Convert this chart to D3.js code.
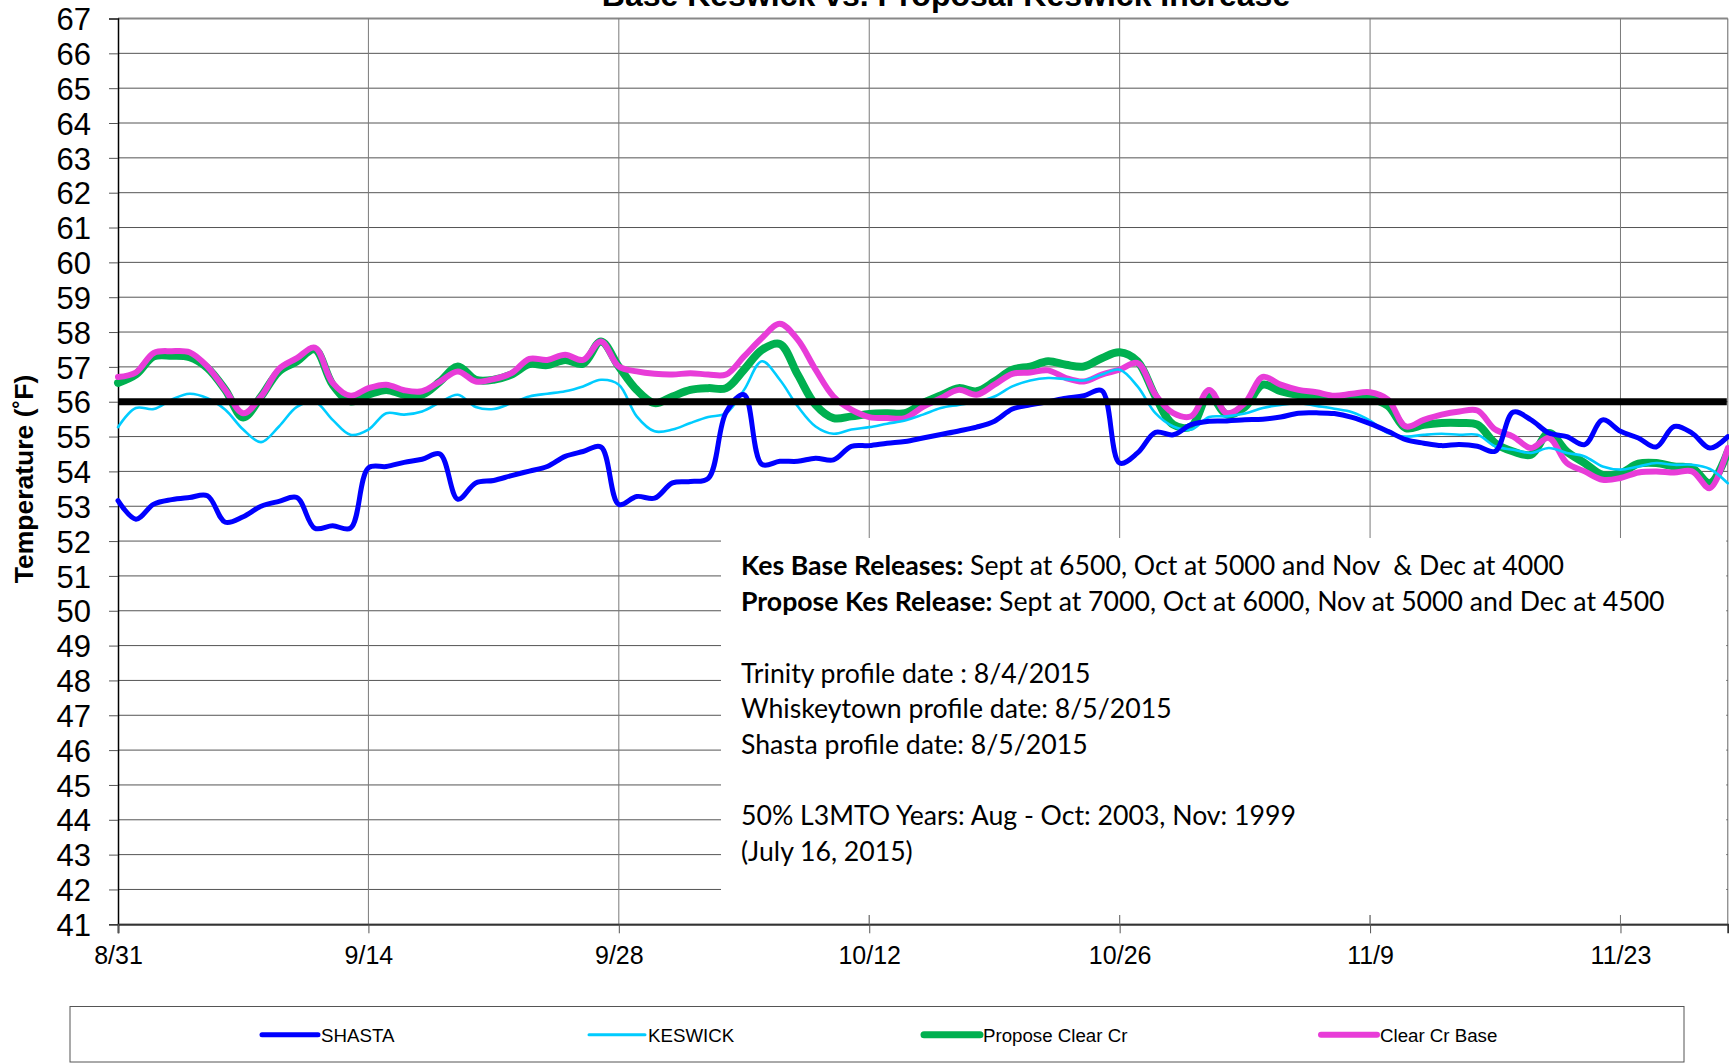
<!DOCTYPE html>
<html>
<head>
<meta charset="utf-8">
<script src="https://cdn.jsdelivr.net/npm/d3@7"></script>
<style>
  html, body { margin: 0; padding: 0; background: #fff; }
  svg { display: block; }
  svg text { white-space: pre; }
</style>
</head>
<body>
<svg id="chart" width="1729" height="1063"></svg>
<script>
// ---------------- DATA ----------------
const startDate = "2015-08-31";
const endDate = "2015-11-29";
const tickDates = ["2015-08-31", "2015-09-14", "2015-09-28", "2015-10-12", "2015-10-26", "2015-11-09", "2015-11-23"];
const tickLabels = ["8/31", "9/14", "9/28", "10/12", "10/26", "11/9", "11/23"];
const yTicks = d3.range(41, 68);
const targetTemp = 56;

const seriesNames = ["SHASTA", "KESWICK", "Propose Clear Cr", "Clear Cr Base"];

const shasta = [53.16,52.63,53.06,53.19,53.25,53.30,52.54,52.70,53.00,53.14,
  53.25,52.37,52.44,52.37,54.10,54.14,54.26,54.35,54.50,53.20,
  53.67,53.74,53.88,54.01,54.14,54.43,54.57,54.70,53.05,53.28,
  53.23,53.67,53.71,53.80,55.70,56.20,54.20,54.29,54.29,54.38,
  54.33,54.72,54.74,54.81,54.86,54.96,55.06,55.16,55.27,55.44,
  55.79,55.91,56.00,56.10,56.17,56.32,54.24,54.53,55.12,55.05,
  55.34,55.44,55.45,55.48,55.50,55.56,55.67,55.68,55.66,55.55,
  55.37,55.15,54.91,54.81,54.74,54.77,54.72,54.58,55.70,55.48,
  55.10,55.00,54.77,55.48,55.15,54.96,54.70,55.29,55.10,54.67,55.00];

const keswick = [55.27,55.82,55.79,56.06,56.23,56.10,55.77,55.20,54.84,55.29,
  55.85,56.00,55.48,55.05,55.20,55.67,55.63,55.72,55.98,56.20,
  55.85,55.79,55.96,56.15,56.23,56.30,56.44,56.63,56.49,55.58,
  55.15,55.20,55.39,55.56,55.67,56.34,57.16,56.63,55.87,55.29,
  55.08,55.20,55.27,55.37,55.46,55.63,55.82,55.91,56.00,56.15,
  56.44,56.61,56.68,56.65,56.61,56.78,56.92,56.44,55.67,55.29,
  55.20,55.56,55.58,55.66,55.82,55.91,55.96,55.88,55.80,55.70,
  55.46,55.10,55.00,55.05,55.08,55.05,55.05,54.72,54.62,54.53,
  54.67,54.53,54.43,54.14,54.05,54.14,54.24,54.19,54.19,54.07,53.66];

const proposeClearCr = [56.54,56.78,57.30,57.32,57.28,56.97,56.34,55.55,56.15,56.87,
  57.16,57.50,56.49,56.01,56.20,56.34,56.20,56.20,56.58,57.01,
  56.63,56.63,56.78,57.08,57.05,57.20,57.09,57.73,57.01,56.34,
  55.96,56.15,56.34,56.39,56.39,56.92,57.49,57.66,56.78,55.91,
  55.53,55.58,55.65,55.67,55.67,55.96,56.18,56.39,56.30,56.58,
  56.92,57.01,57.16,57.06,57.01,57.25,57.42,57.16,56.15,55.34,
  55.29,56.20,55.63,55.85,56.49,56.30,56.19,56.14,56.13,56.12,
  56.10,55.88,55.24,55.34,55.39,55.39,55.34,54.81,54.57,54.48,
  55.10,54.57,54.24,53.90,53.95,54.22,54.24,54.14,54.10,53.66,54.57];

const clearCrBase = [56.71,56.84,57.40,57.45,57.42,57.01,56.34,55.67,56.15,56.94,
  57.25,57.55,56.54,56.17,56.39,56.49,56.33,56.30,56.58,56.87,
  56.58,56.65,56.82,57.23,57.20,57.35,57.20,57.73,57.01,56.87,
  56.80,56.78,56.82,56.78,56.78,57.30,57.83,58.24,57.78,56.92,
  56.15,55.77,55.56,55.53,55.53,55.85,56.10,56.34,56.20,56.49,
  56.80,56.84,56.90,56.68,56.58,56.78,56.92,57.11,56.20,55.67,
  55.58,56.34,55.67,55.96,56.71,56.49,56.34,56.27,56.17,56.23,
  56.27,56.06,55.29,55.48,55.63,55.72,55.75,55.20,55.00,54.67,
  54.96,54.24,54.00,53.76,53.81,53.97,54.00,53.97,54.00,53.52,54.67];

const titleText = "Base Keswick vs. Proposal Keswick Increase";
const yAxisTitle = "Temperature (˚F)";
const noteLines = [
  [["Kes Base Releases:", true], [" Sept at 6500, Oct at 5000 and Nov  & Dec at 4000", false]],
  [["Propose Kes Release:", true], [" Sept at 7000, Oct at 6000, Nov at 5000 and Dec at 4500", false]],
  [],
  [["Trinity profile date : 8/4/2015", false]],
  [["Whiskeytown profile date: 8/5/2015", false]],
  [["Shasta profile date: 8/5/2015", false]],
  [],
  [["50% L3MTO Years: Aug - Oct: 2003, Nov: 1999", false]],
  [["(July 16, 2015)", false]]
];

// ---------------- STYLE / LAYOUT ----------------
const colors = ["#0000FF", "#00CCFF", "#00B050", "#E83CD8"];
const widths = [5, 2.6, 8, 6];
const legendWidths = [5, 3, 7, 6];
const legendX = [262, 589, 924, 1321];
const plot = { left: 118, right: 1727.8, top: 18.5, bottom: 924.3 };
const axisFont = "'Liberation Sans', Arial, sans-serif";

const svg = d3.select("#chart");
const parse = d3.utcParse("%Y-%m-%d");
const dayMs = 86400000;
const t0 = parse(startDate);

const x = d3.scaleUtc().domain([t0, parse(endDate)]).range([plot.left, plot.right]);
const y = d3.scaleLinear().domain([41, 67]).range([plot.bottom, plot.top]);

const allSeries = [shasta, keswick, proposeClearCr, clearCrBase].map((vals, i) => ({
  name: seriesNames[i],
  color: colors[i],
  width: widths[i],
  values: vals.map((v, k) => ({ date: new Date(t0.getTime() + k * dayMs), value: v }))
}));

// gridlines horizontal
svg.append("g").selectAll("line").data(yTicks).join("line")
  .attr("x1", plot.left).attr("x2", plot.right)
  .attr("y1", d => y(d)).attr("y2", d => y(d))
  .attr("stroke", d => d === 67 ? "#888" : "#555").attr("stroke-width", d => d === 67 ? 2 : 1);

// vertical gridlines
svg.append("g").selectAll("line").data(tickDates.slice(1)).join("line")
  .attr("x1", d => x(parse(d))).attr("x2", d => x(parse(d)))
  .attr("y1", plot.top).attr("y2", plot.bottom)
  .attr("stroke", "#7a7a7a").attr("stroke-width", 1);

// right border
svg.append("line").attr("x1", plot.right).attr("x2", plot.right)
  .attr("y1", plot.top).attr("y2", plot.bottom).attr("stroke", "#666").attr("stroke-width", 1);

// text box (white) covering grid
svg.append("rect").attr("x", 721).attr("y", 538).attr("width", plot.right - 1.5 - 721).attr("height", 915 - 538)
  .attr("fill", "#fff");

// axes
const yAxis = d3.axisLeft(y).tickValues(yTicks).tickSize(9).tickPadding(18).tickFormat(d3.format("d"));
const gy = svg.append("g").attr("transform", `translate(${plot.left},0)`).call(yAxis);
gy.select(".domain").attr("stroke", "#000").attr("stroke-width", 1.5);
gy.selectAll(".tick line").attr("stroke", "#555");
gy.selectAll("text").attr("font-family", axisFont).attr("font-size", 31).attr("fill", "#000").attr("dy", "0.36em");

const xAxis = d3.axisBottom(x).tickValues(tickDates.map(parse)).tickSize(9).tickPadding(13)
  .tickFormat((d, i) => tickLabels[i]);
const gx = svg.append("g").attr("transform", `translate(0,${plot.bottom})`).call(xAxis);
gx.select(".domain").attr("stroke", "#333").attr("stroke-width", 2);
gx.selectAll(".tick line").attr("stroke", "#555");
gx.selectAll("text").attr("font-family", axisFont).attr("font-size", 25).attr("fill", "#000");
// short tick stubs above axis for hidden gridlines
svg.append("g").selectAll("line").data(tickDates.slice(3)).join("line")
  .attr("x1", d => x(parse(d))).attr("x2", d => x(parse(d)))
  .attr("y1", 915).attr("y2", plot.bottom).attr("stroke", "#7a7a7a");

// series lines
const line = d3.line().x(d => x(d.date)).y(d => y(d.value)).curve(d3.curveCatmullRom.alpha(0.5));
svg.append("g").selectAll("path").data([allSeries[2], allSeries[3], allSeries[1], allSeries[0]]).join("path")
  .attr("d", d => line(d.values))
  .attr("fill", "none").attr("stroke", d => d.color).attr("stroke-width", d => d.width)
  .attr("stroke-linejoin", "round").attr("stroke-linecap", "round");

// target line
svg.append("line").attr("x1", plot.left).attr("x2", plot.right - 1)
  .attr("y1", y(targetTemp)).attr("y2", y(targetTemp))
  .attr("stroke", "#000").attr("stroke-width", 7);

// title
svg.append("text").attr("x", 946).attr("y", 6).attr("text-anchor", "middle")
  .attr("font-family", axisFont).attr("font-weight", "bold").attr("font-size", 32)
  .text(titleText);

// y axis title
svg.append("text").attr("transform", "translate(33,479) rotate(-90)").attr("text-anchor", "middle")
  .attr("font-family", axisFont).attr("font-weight", "bold").attr("font-size", 26.5)
  .text(yAxisTitle);

// notes
const noteFont = "Lato, 'Open Sans', sans-serif";
const notes = svg.append("g");
const baselines = [575, 611, 646.5, 682.5, 718, 754, 789.5, 825, 861];
noteLines.forEach((segs, i) => {
  const t = notes.append("text").attr("x", 741).attr("y", baselines[i])
    .attr("font-family", noteFont).attr("font-size", 24).attr("fill", "#000");
  segs.forEach(s => t.append("tspan").attr("font-weight", s[1] ? "bold" : "normal").text(s[0]));
});
// fit font size so the longest line matches the reference width
const refNode = notes.selectAll("text").nodes()[1];
const measured = refNode.getComputedTextLength();
const fs = 24 * 924 / measured;
notes.selectAll("text").attr("font-size", fs);

// legend
const lg = svg.append("g");
lg.append("rect").attr("x", 70).attr("y", 1006.5).attr("width", 1684 - 70).attr("height", 1062 - 1006.5)
  .attr("fill", "#fff").attr("stroke", "#555").attr("stroke-width", 1);
allSeries.forEach((s, i) => {
  lg.append("line").attr("x1", legendX[i]).attr("x2", legendX[i] + 56)
    .attr("y1", 1034.7).attr("y2", 1034.7)
    .attr("stroke", s.color).attr("stroke-width", legendWidths[i]).attr("stroke-linecap", "round");
  lg.append("text").attr("x", legendX[i] + 59).attr("y", 1041.5)
    .attr("font-family", axisFont).attr("font-size", 18.7).attr("fill", "#000").text(s.name);
});
</script>
</body>
</html>
